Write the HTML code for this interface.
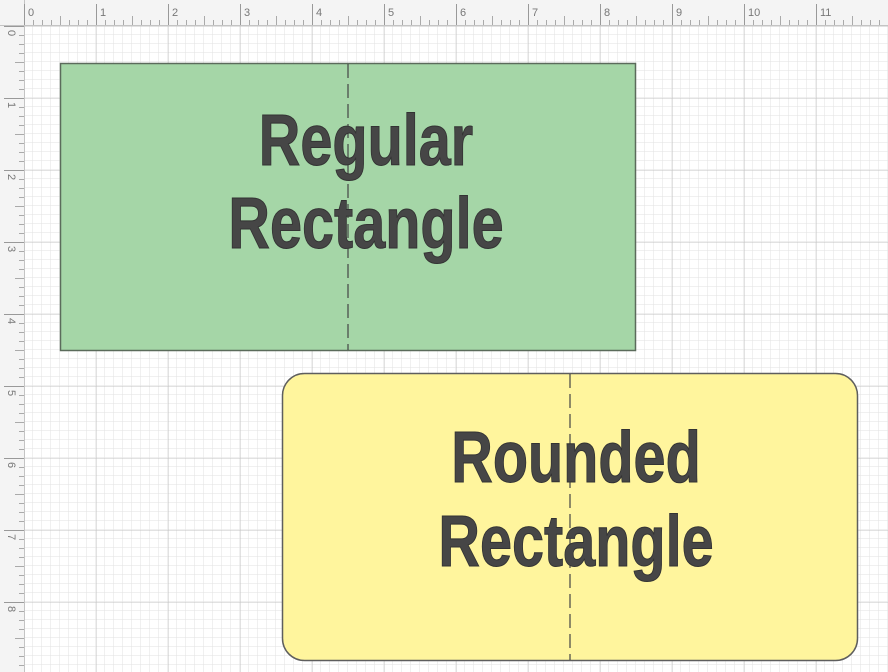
<!DOCTYPE html>
<html><head><style>
html,body{margin:0;padding:0;background:#fff;}
svg{display:block}
text{font-family:"Liberation Sans",sans-serif;font-weight:bold;font-size:72px;fill:#464646;stroke:#333;stroke-width:1}
.rn{font-family:"Liberation Sans",sans-serif;font-weight:normal;font-size:11px;fill:#777;stroke:none}
</style></head><body>
<svg width="888" height="672" viewBox="0 0 888 672" xmlns="http://www.w3.org/2000/svg">
<defs>
<pattern id="minor" x="24" y="26" width="9" height="9" patternUnits="userSpaceOnUse">
<path d="M9 0V9M0 9H9" fill="none" stroke="#e2e2e2" stroke-width="1"/>
</pattern>
<pattern id="major" x="24" y="26" width="72" height="72" patternUnits="userSpaceOnUse">
<path d="M0 0V72M0 0H72" fill="none" stroke="#c4c4c4" stroke-width="1"/>
</pattern>
</defs>
<rect width="888" height="672" fill="#fff"/>
<rect width="888" height="672" fill="url(#minor)"/>
<rect width="888" height="672" fill="url(#major)"/>
<rect x="0" y="0" width="888" height="25" fill="#f4f4f4"/>
<rect x="0" y="0" width="24" height="672" fill="#f4f4f4"/>
<line x1="0" y1="25.5" x2="888" y2="25.5" stroke="#c4c4c4"/>
<line x1="24.5" y1="0" x2="24.5" y2="672" stroke="#c4c4c4"/>
<g stroke="#999" stroke-width="1">
<path d="M24.5 4V25M96.5 4V25M168.5 4V25M240.5 4V25M312.5 4V25M384.5 4V25M456.5 4V25M528.5 4V25M600.5 4V25M672.5 4V25M744.5 4V25M816.5 4V25"/>
<path d="M4 26.5H24M4 98.5H24M4 170.5H24M4 242.5H24M4 314.5H24M4 386.5H24M4 458.5H24M4 530.5H24M4 602.5H24"/>
</g>
<g id="ticks" stroke="#aaa"></g>
<g class="rn">
<text class="rn" x="28" y="16">0</text><text class="rn" x="100" y="16">1</text><text class="rn" x="172" y="16">2</text><text class="rn" x="244" y="16">3</text><text class="rn" x="316" y="16">4</text><text class="rn" x="388" y="16">5</text><text class="rn" x="460" y="16">6</text><text class="rn" x="532" y="16">7</text><text class="rn" x="604" y="16">8</text><text class="rn" x="676" y="16">9</text><text class="rn" x="748" y="16">10</text><text class="rn" x="820" y="16">11</text>
<text class="rn" transform="translate(8,30) rotate(90)">0</text><text class="rn" transform="translate(8,102) rotate(90)">1</text><text class="rn" transform="translate(8,174) rotate(90)">2</text><text class="rn" transform="translate(8,246) rotate(90)">3</text><text class="rn" transform="translate(8,318) rotate(90)">4</text><text class="rn" transform="translate(8,390) rotate(90)">5</text><text class="rn" transform="translate(8,462) rotate(90)">6</text><text class="rn" transform="translate(8,534) rotate(90)">7</text><text class="rn" transform="translate(8,606) rotate(90)">8</text>
</g>
<rect x="60.5" y="63.5" width="575" height="287" fill="#a5d6a7" stroke="#5b6b5b" stroke-width="1.5"/>
<line x1="348" y1="64" x2="348" y2="350" stroke="#444" stroke-width="1.2" stroke-dasharray="14,6"/>
<rect x="282.5" y="373.5" width="575" height="287" rx="22" ry="22" fill="#fff59d" stroke="#5e5e5e" stroke-width="1.5"/>
<line x1="570" y1="374" x2="570" y2="660" stroke="#444" stroke-width="1.2" stroke-dasharray="14,6"/>
<g transform="translate(366,0) scale(0.8,1)"><text x="0" y="165" text-anchor="middle">Regular</text><text x="0" y="248" text-anchor="middle">Rectangle</text></g>
<g transform="translate(576,0) scale(0.8,1)"><text x="0" y="482" text-anchor="middle">Rounded</text><text x="0" y="566" text-anchor="middle">Rectangle</text></g>
</svg>
<script>
var g=document.getElementById('ticks'),s='';
for(var x=24;x<888;x+=9){if((x-24)%72)s+='M'+(x+.5)+' '+((x-24)%36?20:16)+'V25';}
for(var y=26;y<672;y+=9){if((y-26)%72)s+='M'+((y-26)%36?19:15)+' '+(y+.5)+'H24';}
g.innerHTML='<path d="'+s+'"/>';
</script>
</body></html>
